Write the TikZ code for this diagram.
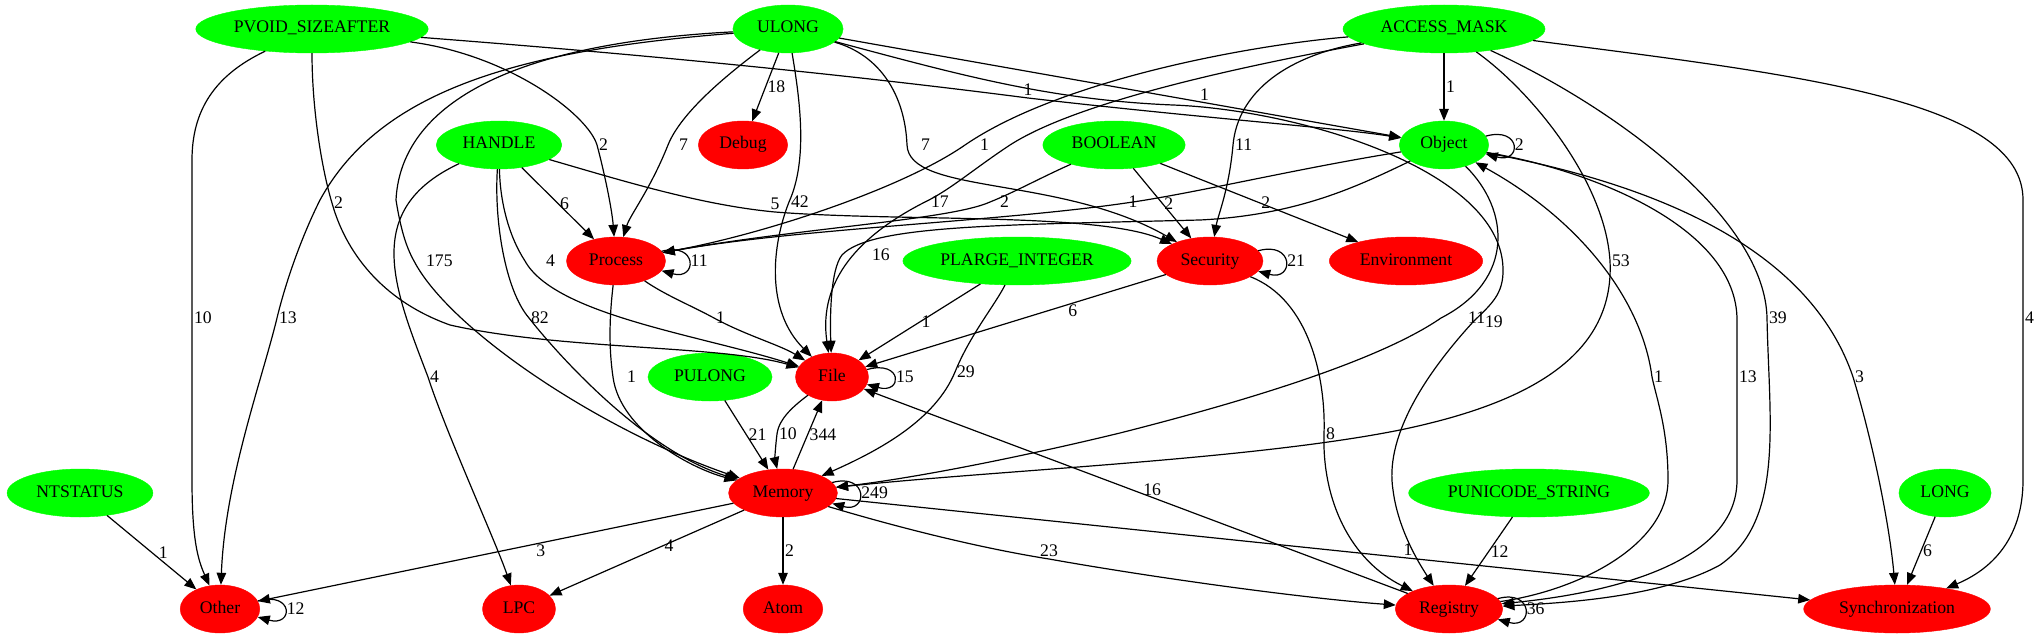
\documentclass[tikz,border=0pt]{standalone}
\usepackage{fontspec}
\setmainfont{Liberation Serif}
\usetikzlibrary{shapes.geometric,arrows.meta}

\definecolor{gvgreen}{HTML}{00FF00}
\definecolor{gvred}{HTML}{FF0000}

\tikzset{
  typebox/.style={ellipse, fill=gvgreen, draw=gvgreen, minimum width=73pt, minimum height=48pt,
    inner xsep=8pt, inner ysep=2pt, text height=12pt, text depth=4pt},
  groupbox/.style={typebox, fill=gvred, draw=gvred},
  link/.style={line width=1.2pt, -{Triangle[length=12pt,width=9.5pt]}},
  lbl/.style={inner sep=1.5pt}
}

\begin{document}
\begin{tikzpicture}[x=1pt,y=-1pt,font=\fontsize{17.7}{20}\selectfont]
	\useasboundingbox (0,0) rectangle (2039,639);
	% types
	\draw (312,29) node[typebox,inner xsep=4pt] (pvoid) {PVOID\_SIZEAFTER};
	\draw (788,29) node[typebox] (ulong) {ULONG};
	\draw (1444,29) node[typebox] (accessmask) {ACCESS\_MASK};
	\draw (499,145) node[typebox] (handle) {HANDLE};
	\draw (1114,145) node[typebox] (boolean) {BOOLEAN};
	\draw (1444,145) node[typebox] (object) {Object};
	\draw (1017,261) node[typebox,inner xsep=4pt] (plarge) {PLARGE\_INTEGER};
	\draw (710,377) node[typebox] (pulong) {PULONG};
	\draw (80,493) node[typebox] (ntstatus) {NTSTATUS};
	\draw (1529,493) node[typebox,inner xsep=4pt] (punicode) {PUNICODE\_STRING};
	\draw (1945,493) node[typebox] (long) {LONG};
	% groups
	\draw (743,145) node[groupbox] (debug) {Debug};
	\draw (616,261) node[groupbox] (process) {Process};
	\draw (1210,261) node[groupbox] (security) {Security};
	\draw (1406,261) node[groupbox] (environment) {Environment};
	\draw (832,377) node[groupbox] (file) {File};
	\draw (783,493) node[groupbox] (memory) {Memory};
	\draw (220,609) node[groupbox] (other) {Other};
	\draw (519,609) node[groupbox] (lpc) {LPC};
	\draw (783,609) node[groupbox] (atom) {Atom};
	\draw (1449,609) node[groupbox] (registry) {Registry};
	\draw (1897,609) node[groupbox] (sync) {Synchronization};
	% PVOID_SIZEAFTER
	\draw[link] (pvoid) .. controls (215,75) and (192,110) .. (192,160) -- (192,318) node[lbl,right]{10} -- (192,480) .. controls (192,540) and (198,560) .. (other);
	\draw[link] (pvoid) .. controls (312,110) and (322,170) .. (332,203) node[lbl,right]{2} .. controls (345,250) and (380,300) .. (450,325) .. controls (560,350) and (720,345) .. (file);
	\draw[link] (pvoid) .. controls (510,55) and (588,115) .. (597,145) node[lbl,right]{2} .. controls (605,175) and (612,210) .. (process);
	\draw[link] (pvoid) .. controls (650,55) and (850,75) .. (1028,98) node[lbl,above]{1} .. controls (1200,118) and (1340,128) .. (object);
	% ULONG
	\draw[link] (ulong) .. controls (520,50) and (380,90) .. (320,200) .. controls (300,240) and (285,285) .. (277,318) node[lbl,right]{13} .. controls (262,380) and (225,480) .. (other);
	\draw[link] (ulong) .. controls (480,45) and (400,120) .. (396,200) .. controls (400,225) and (405,245) .. (414,261) node[lbl,right=10pt]{175} .. controls (450,330) and (600,430) .. (memory);
	\draw[link] (ulong) .. controls (720,80) and (680,115) .. (668,145) node[lbl,right=9pt]{7} .. controls (650,190) and (630,215) .. (process);
	\draw[link] (ulong) -- node[lbl,right]{18} (debug);
	\draw[link] (ulong) .. controls (800,100) and (808,160) .. (789,202) node[lbl,right]{42} .. controls (772,245) and (765,310) .. (file);
	\draw[link] (ulong) .. controls (880,55) and (905,95) .. (907,145) node[lbl,right=12pt]{7} .. controls (909,195) and (1060,175) .. (security);
	\draw[link] (ulong) -- node[lbl,above,pos=0.65]{1} (object);
	\draw[link] (ulong) .. controls (960,75) and (1050,100) .. (1173,105) .. controls (1300,110) and (1500,170) .. (1503,268) .. controls (1504,295) and (1490,305) .. (1473,322) node[lbl,right=10pt]{19} .. controls (1420,380) and (1385,440) .. (1393,490) .. controls (1398,530) and (1420,565) .. (registry);
	% ACCESS_MASK
	\draw[link] (accessmask) -- node[lbl,right]{1} (object);
	\draw[link] (accessmask) .. controls (1250,45) and (1060,80) .. (965,145) node[lbl,right=13pt]{1} .. controls (900,190) and (760,235) .. (process);
	\draw[link] (accessmask) .. controls (1250,65) and (1080,100) .. (1010,145) .. controls (975,168) and (950,190) .. (925,202) node[lbl,right=4pt]{17} .. controls (860,235) and (818,280) .. (file);
	\draw[link] (accessmask) .. controls (1290,55) and (1238,90) .. (1233,145) node[lbl,right]{11} .. controls (1229,190) and (1218,215) .. (security);
	\draw[link] (accessmask) .. controls (1530,90) and (1605,180) .. (1610,261) node[lbl,right]{53} .. controls (1615,360) and (1520,405) .. (1400,430) .. controls (1250,460) and (1000,470) .. (memory);
	\draw[link] (accessmask) .. controls (1620,110) and (1765,220) .. (1767,318) node[lbl,right]{39} .. controls (1769,420) and (1785,520) .. (1720,565) .. controls (1660,598) and (1560,603) .. (registry);
	\draw[link] (accessmask) .. controls (1800,75) and (2023,100) .. (2023,200) -- (2023,318) node[lbl,right]{4} -- (2023,480) .. controls (2023,540) and (1990,570) .. (sync);
	% HANDLE
	\draw[link] (handle) -- node[lbl,right]{6} (process);
	\draw[link] (handle) .. controls (620,180) and (700,205) .. (775,212) node[lbl,above]{5} .. controls (900,222) and (1100,212) .. (security);
	\draw[link] (handle) .. controls (500,200) and (508,235) .. (525,261) node[lbl,right=19pt]{4} .. controls (555,315) and (700,335) .. (file);
	\draw[link] (handle) .. controls (494,220) and (505,290) .. (529,318) node[lbl,right]{82} .. controls (550,345) and (640,450) .. (memory);
	\draw[link] (handle) .. controls (360,210) and (395,290) .. (428,377) node[lbl,right]{4} .. controls (445,430) and (495,540) .. (lpc);
	% BOOLEAN
	\draw[link] (boolean) .. controls (1040,178) and (1015,192) .. (990,202) node[lbl,right=8pt]{2} .. controls (950,220) and (800,228) .. (process);
	\draw[link] (boolean) -- node[lbl,right]{2} (security);
	\draw[link] (boolean) -- node[lbl,right]{2} (environment);
	% Object
	\draw[link] (object.12) .. controls +(36,-10) and +(36,10) .. (object.-12) node[lbl,pos=0.5,right]{2};
	\draw[link] (object) .. controls (1300,168) and (1200,192) .. (1133,202) node[lbl]{1} .. controls (1000,222) and (800,228) .. (process);
	\draw[link] (object) .. controls (1360,185) and (1300,215) .. (1200,220) .. controls (1000,225) and (870,225) .. (842,255) node[lbl,right=28pt]{16} .. controls (830,270) and (830,320) .. (file);
	\draw[link] (object) .. controls (1510,210) and (1515,280) .. (1441,318) node[lbl,right=25pt]{11} .. controls (1380,360) and (1250,400) .. (1120,433) .. controls (1000,462) and (900,480) .. (memory);
	\draw[link] (object) .. controls (1600,172) and (1737,230) .. (1737,320) -- (1737,377) node[lbl,right]{13} -- (1737,480) .. controls (1737,560) and (1620,592) .. (registry);
	\draw[link] (object) .. controls (1660,185) and (1810,250) .. (1853,377) node[lbl,right]{3} .. controls (1875,450) and (1890,530) .. (sync);
	% Process, Security, PLARGE_INTEGER, PULONG
	\draw[link] (process.12) .. controls +(36,-10) and +(36,10) .. (process.-12) node[lbl,pos=0.5,right]{11};
	\draw[link] (process) .. controls (665,295) and (690,305) .. (714,318) node[lbl,right]{1} .. controls (745,335) and (780,345) .. (file);
	\draw[link] (process) .. controls (609,320) and (609,350) .. (613,377) node[lbl,right=12pt]{1} .. controls (620,430) and (690,468) .. (memory);
	\draw[link] (security.12) .. controls +(36,-10) and +(36,10) .. (security.-12) node[lbl,pos=0.5,right]{21};
	\draw[link] (security) -- node[lbl,below,pos=0.31]{6} (file);
	\draw[link] (security) .. controls (1310,300) and (1326,380) .. (1324,434) node[lbl,right]{8} .. controls (1322,500) and (1350,560) .. (registry);
	\draw[link] (plarge) -- node[lbl,right]{1} (file);
	\draw[link] (plarge) .. controls (995,305) and (970,335) .. (955,372) node[lbl,right]{29} .. controls (935,420) and (880,450) .. (memory);
	\draw[link] (pulong) -- node[lbl,right]{21} (memory);
	% File, Memory
	\draw[link] (file.12) .. controls +(36,-10) and +(36,10) .. (file.-12) node[lbl,pos=0.5,right]{15};
	\draw[link] (file) .. controls (795,405) and (779,418) .. (777,434) node[lbl,right]{10} .. controls (775,450) and (775,460) .. (memory);
	\draw[link] (memory.12) .. controls +(36,-10) and +(36,10) .. (memory.-12) node[lbl,pos=0.5,right]{249};
	\draw[link] (memory) -- node[lbl,right]{344} (file);
	\draw[link] (memory) -- node[lbl,below,pos=0.405]{3} (other);
	\draw[link] (memory) -- node[lbl,right,pos=0.42]{4} (lpc);
	\draw[link] (memory) -- node[lbl,right]{2} (atom);
	\draw[link] (memory) .. controls (900,528) and (980,548) .. (1049,559) node[lbl,above]{23} .. controls (1150,577) and (1300,598) .. (registry);
	\draw[link] (memory) -- node[lbl,above,pos=0.587]{1} (sync);
	% Registry and the rest
	\draw[link] (registry.12) .. controls +(36,-10) and +(36,10) .. (registry.-12) node[lbl,pos=0.5,right]{36};
	\draw[link] (registry) .. controls (1580,590) and (1668,545) .. (1668,480) .. controls (1668,430) and (1657,400) .. (1652,377) node[lbl,right]{1} .. controls (1642,300) and (1580,220) .. (object);
	\draw[link] (registry) -- node[lbl,above,pos=0.47]{16} (file);
	\draw[link] (ntstatus) -- node[lbl,right=5pt]{1} (other);
	\draw[link] (other.12) .. controls +(36,-10) and +(36,10) .. (other.-12) node[lbl,pos=0.5,right]{12};
	\draw[link] (punicode) -- node[lbl,right]{12} (registry);
	\draw[link] (long) -- node[lbl,right]{6} (sync);
\end{tikzpicture}
\end{document}
